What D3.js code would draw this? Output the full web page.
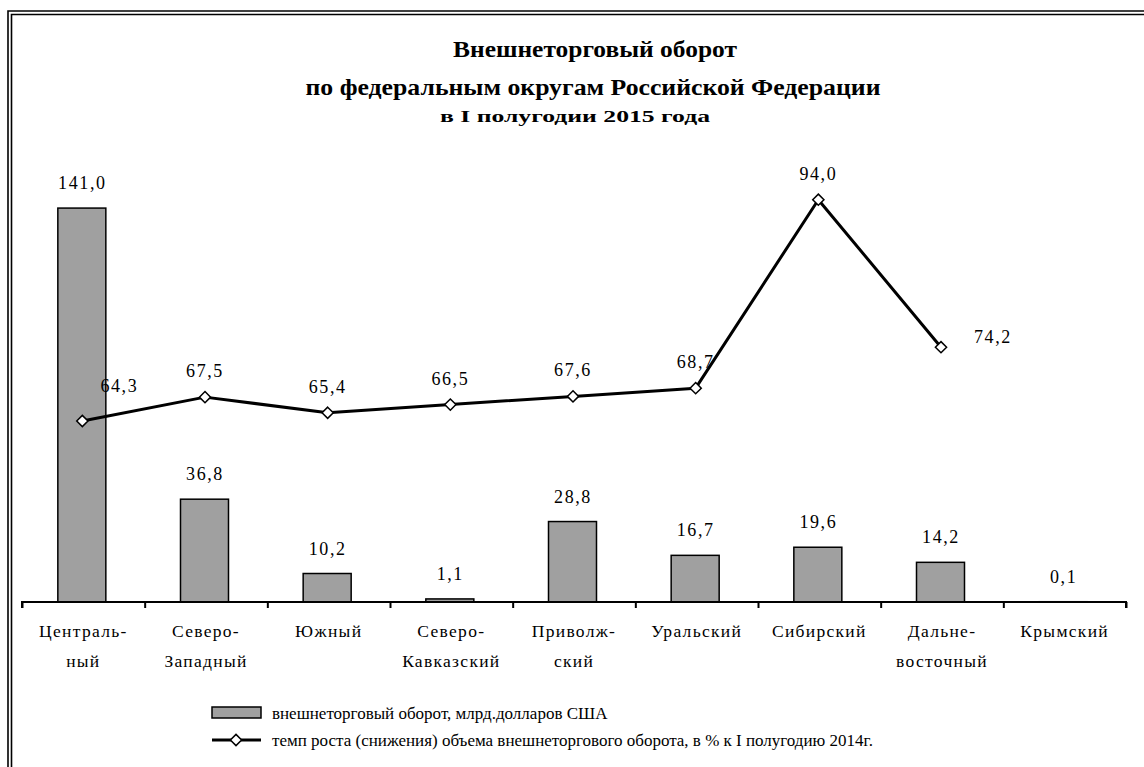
<!DOCTYPE html>
<html><head><meta charset="utf-8">
<script src="https://cdn.jsdelivr.net/npm/d3@7"></script>
<style>
body{margin:0;background:#fff;}
</style></head>
<body><svg id="c" width="1144" height="767" font-family="'Liberation Serif', 'Times New Roman', serif"></svg>
<script>
const categories = [["Централь-","ный"],["Северо-","Западный"],["Южный"],["Северо-","Кавказский"],["Приволж-","ский"],["Уральский"],["Сибирский"],["Дальне-","восточный"],["Крымский"]];
const turnover = [141.0, 36.8, 10.2, 1.1, 28.8, 16.7, 19.6, 14.2, 0.1];
const growth = [64.3, 67.5, 65.4, 66.5, 67.6, 68.7, 94.0, 74.2, null];
const titleLines = ["Внешнеторговый оборот","по федеральным округам Российской Федерации","в I полугодии 2015 года"];
const legendLabels = ["внешнеторговый оборот, млрд.долларов США","темп роста (снижения) объема внешнеторгового оборота, в % к I полугодию 2014г."];

const svg = d3.select("#c");
const FF = "'Liberation Serif', 'Times New Roman', serif";
const fmt = v => v.toFixed(1).replace(".", ",");

// double border (extends beyond the picture at right and bottom)
[[8,11],[11.5,14.5]].forEach(([bx,by])=>{
  svg.append("path").attr("d",`M${bx},800V${by}H1200`).attr("fill","none").attr("stroke","#000").attr("stroke-width",1.6);
});

// title
const tl = svg.append("g").attr("font-family",FF).attr("font-weight","bold").attr("text-anchor","middle");
tl.append("text").attr("x",595).attr("y",57).attr("font-size",23).attr("textLength",284).attr("lengthAdjust","spacingAndGlyphs").text(titleLines[0]);
tl.append("text").attr("x",593).attr("y",95).attr("font-size",23).attr("textLength",575).attr("lengthAdjust","spacingAndGlyphs").text(titleLines[1]);
tl.append("text").attr("x",575).attr("y",122).attr("font-size",17).attr("textLength",270).attr("lengthAdjust","spacingAndGlyphs").text(titleLines[2]);

const x0 = 22, x1 = 1126, yBase = 602, yTop = 155;
const x = d3.scaleBand().domain(d3.range(categories.length)).range([x0,x1]).paddingInner(0).paddingOuter(0);
const y = d3.scaleLinear().domain([0,160]).range([yBase,yTop]);
const y2 = d3.scaleLinear().domain([40,100]).range([yBase,yTop]);
const bw = 48;

// bars
svg.append("g").selectAll("rect").data(turnover).join("rect")
  .attr("x",(d,i)=>x(i)+x.bandwidth()/2-bw/2-1.5)
  .attr("y",d=>y(d))
  .attr("width",bw).attr("height",d=>yBase-y(d))
  .attr("fill","#a0a0a0").attr("stroke","#000").attr("stroke-width",1.5);

// bar labels
svg.append("g").attr("font-family",FF).selectAll("text").data(turnover).join("text")
  .attr("x",(d,i)=>x(i)+x.bandwidth()/2-1)
  .attr("y",d=>y(d)-19)
  .attr("text-anchor","middle").attr("font-size",18).attr("letter-spacing",1.6)
  .text(d=>fmt(d));

// axis
const axis = d3.axisBottom(d3.scaleLinear().domain([0,categories.length]).range([x0,x1])).ticks(categories.length).tickSize(6).tickFormat("");
const ag = svg.append("g").attr("transform",`translate(0,${yBase})`).call(axis);
ag.select(".domain").attr("stroke","#000").attr("stroke-width",2).attr("d",`M${x0},6V0H${x1}V6`);
ag.selectAll(".tick line").attr("stroke","#000").attr("stroke-width",2);

// category labels
const cl = svg.append("g").attr("font-family",FF);
categories.forEach((c,i)=>{
  c.forEach((s,j)=>{
    cl.append("text").attr("x",x(i)+x.bandwidth()/2).attr("y",637+j*30)
      .attr("text-anchor","middle").attr("font-size",17.5).attr("letter-spacing",1.3).text(s);
  });
});

// line
const pts = growth.map((v,i)=>({v,i})).filter(d=>d.v!=null);
const px = i => x(i)+x.bandwidth()/2-1;
svg.append("path").datum(pts)
  .attr("d",d3.line().x(d=>px(d.i)).y(d=>y2(d.v)))
  .attr("fill","none").attr("stroke","#000").attr("stroke-width",3).attr("stroke-linejoin","round");
svg.append("g").selectAll("path").data(pts).join("path")
  .attr("transform",d=>`translate(${px(d.i)},${y2(d.v)})`)
  .attr("d",d3.symbol(d3.symbolDiamond2,80)())
  .attr("fill","#fff").attr("stroke","#000").attr("stroke-width",1.5);
svg.append("g").attr("font-family",FF).selectAll("text").data(pts).join("text")
  .attr("x",d=> d.i===0 ? px(d.i)+37 : d.i===7 ? px(d.i)+33 : px(d.i))
  .attr("y",d=> d.i===0 ? y2(d.v)-29 : d.i===7 ? y2(d.v)-4 : y2(d.v)-20)
  .attr("text-anchor",d=> d.i===7 ? "start" : "middle")
  .attr("font-size",18).attr("letter-spacing",1.6)
  .text(d=>fmt(d.v));

// legend
const lg = svg.append("g").attr("font-family",FF);
lg.append("rect").attr("x",212).attr("y",707).attr("width",49).attr("height",11).attr("fill","#a0a0a0").attr("stroke","#000").attr("stroke-width",1.5);
lg.append("text").attr("x",272).attr("y",719).attr("font-size",17).text(legendLabels[0]);
lg.append("line").attr("x1",212).attr("x2",261).attr("y1",740).attr("y2",740).attr("stroke","#000").attr("stroke-width",3);
lg.append("path").attr("transform","translate(236,740)").attr("d",d3.symbol(d3.symbolDiamond2,80)()).attr("fill","#fff").attr("stroke","#000").attr("stroke-width",1.5);
lg.append("text").attr("x",272).attr("y",746).attr("font-size",17).text(legendLabels[1]);
</script></body></html>
